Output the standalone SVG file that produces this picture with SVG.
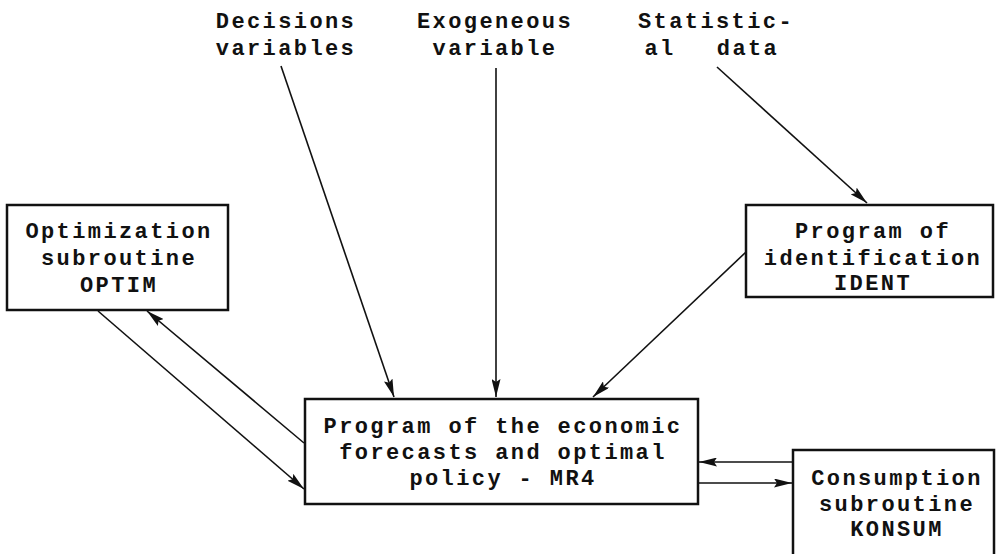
<svg xmlns="http://www.w3.org/2000/svg" width="997" height="554" viewBox="0 0 997 554">
<defs>
<marker id="ah" viewBox="0 0 18 9" refX="18" refY="4.5" markerWidth="18" markerHeight="9" markerUnits="userSpaceOnUse" orient="auto">
<path d="M0,0 L18,4.5 L0,9 L3,4.5 Z" fill="#111"/>
</marker>
</defs>
<style>
.box{fill:#fff;stroke:#111;stroke-width:2.5}
.t{font-family:"Liberation Mono","Courier New",monospace;font-size:22px;letter-spacing:2.4px;font-weight:bold;fill:#111;text-anchor:middle}
.c{stroke:#111;stroke-width:1.6;fill:none;marker-end:url(#ah)}
</style>
<rect width="997" height="554" fill="#fff"/>
<g id="connectors">
<line class="c" x1="281" y1="66" x2="394" y2="397"/>
<line class="c" x1="496" y1="68" x2="496" y2="397"/>
<line class="c" x1="717" y1="67" x2="867" y2="203"/>
<line class="c" x1="746" y1="252" x2="593" y2="397"/>
<line class="c" x1="98" y1="311" x2="304" y2="489"/>
<line class="c" x1="304" y1="443" x2="147" y2="311"/>
<line class="c" x1="793" y1="462" x2="699" y2="462"/>
<line class="c" x1="699" y1="483" x2="792" y2="483"/>
</g>
<g id="label-decisions">
<text class="t" x="286" y="28">Decisions</text>
<text class="t" x="286" y="55">variables</text>
</g>
<g id="label-exogeneous">
<text class="t" x="495" y="28">Exogeneous</text>
<text class="t" x="495" y="55">variable</text>
</g>
<g id="label-statistical">
<text class="t" x="716" y="28">Statistic-</text>
<text class="t" x="660" y="55">al</text>
<text class="t" x="748" y="55">data</text>
</g>
<g id="optim">
<rect class="box" x="7" y="205" width="221" height="105"/>
<text class="t" x="119" y="238">Optimization</text>
<text class="t" x="119" y="265">subroutine</text>
<text class="t" x="119" y="292">OPTIM</text>
</g>
<g id="ident">
<rect class="box" x="746" y="205" width="247" height="92"/>
<text class="t" x="873" y="238">Program of</text>
<text class="t" x="873" y="265">identification</text>
<text class="t" x="873" y="290">IDENT</text>
</g>
<g id="mr4">
<rect class="box" x="305" y="399" width="393" height="105"/>
<text class="t" x="503" y="433">Program of the economic</text>
<text class="t" x="503" y="459">forecasts and optimal</text>
<text class="t" x="503" y="485">policy - MR4</text>
</g>
<g id="konsum">
<rect class="box" x="793" y="450" width="201" height="110"/>
<text class="t" x="897" y="485">Consumption</text>
<text class="t" x="897" y="511">subroutine</text>
<text class="t" x="897" y="536">KONSUM</text>
</g>
</svg>
